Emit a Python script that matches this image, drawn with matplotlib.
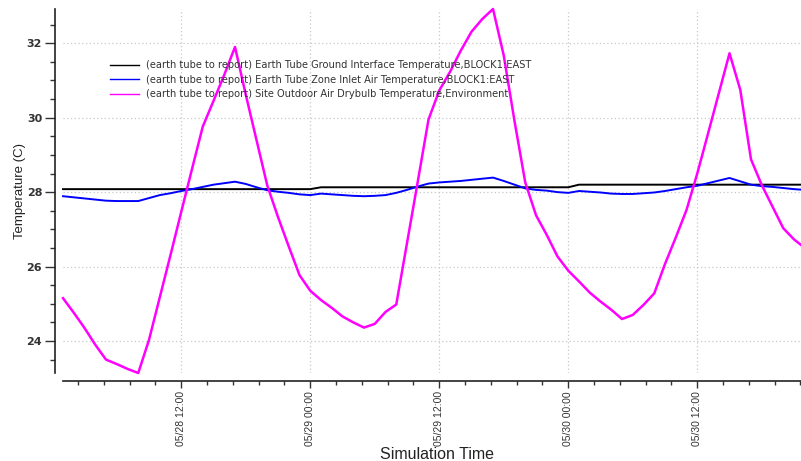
import matplotlib
matplotlib.use("Agg")
import matplotlib.pyplot as plt
import matplotlib.dates as mdates
from matplotlib.ticker import MultipleLocator
import pandas as pd

# hourly EnergyPlus output, starting 05/28 01:00
times = pd.date_range("2001-05-28 01:00", periods=70, freq="h")

ground_temp = [28.08] * 24 + [28.13] * 24 + [28.20] * 22

inlet_temp = [
    27.89, 27.86, 27.83, 27.80, 27.77, 27.76, 27.76, 27.76, 27.84, 27.92,
    27.97, 28.03, 28.08, 28.14, 28.20, 28.24, 28.28, 28.22, 28.13, 28.05,
    28.01, 27.98, 27.94, 27.92, 27.96, 27.94, 27.92, 27.90, 27.89, 27.90,
    27.92, 27.98, 28.06, 28.15, 28.23, 28.26, 28.28, 28.30, 28.33, 28.36,
    28.39, 28.30, 28.20, 28.10, 28.06, 28.04, 28.00, 27.98, 28.03, 28.01,
    27.99, 27.96, 27.95, 27.95, 27.97, 27.99, 28.03, 28.08, 28.13, 28.17,
    28.24, 28.31, 28.38, 28.29, 28.20, 28.16, 28.14, 28.11, 28.08, 28.06,
]

outdoor_temp = [
    25.15, 24.76, 24.35, 23.90, 23.50, 23.38, 23.25, 23.14, 24.03, 25.17,
    26.31, 27.47, 28.62, 29.76, 30.45, 31.15, 31.90, 30.62, 29.40, 28.18,
    27.33, 26.54, 25.77, 25.35, 25.10, 24.89, 24.66, 24.50, 24.36, 24.46,
    24.78, 24.98, 26.63, 28.28, 29.95, 30.73, 31.23, 31.80, 32.31, 32.65,
    32.92, 31.67, 29.91, 28.26, 27.38, 26.85, 26.27, 25.89, 25.60, 25.30,
    25.06, 24.84, 24.59, 24.70, 24.97, 25.28, 26.07, 26.78, 27.52, 28.50,
    29.57, 30.65, 31.73, 30.75, 28.88, 28.19, 27.61, 27.03, 26.73, 26.50,
]

labels = [
    "(earth tube to report) Earth Tube Ground Interface Temperature,BLOCK1:EAST",
    "(earth tube to report) Earth Tube Zone Inlet Air Temperature,BLOCK1:EAST",
    "(earth tube to report) Site Outdoor Air Drybulb Temperature,Environment",
]

fig = plt.figure(figsize=(8.01, 4.61), dpi=100)
ax = fig.add_axes([63 / 801, 88 / 461, 738 / 801, 364 / 461])

ax.plot(times, ground_temp, color="black", lw=1.4, label=labels[0], clip_on=False)
ax.plot(times, inlet_temp, color="#0000ff", lw=1.4, label=labels[1], clip_on=False)
ax.plot(times, outdoor_temp, color="#ff00ff", lw=1.8, label=labels[2], clip_on=False)

ax.set_xlim(times[0], times[0] + pd.Timedelta(hours=68.65))
ax.set_ylim(min(outdoor_temp), max(outdoor_temp))

for side in ["top", "right"]:
    ax.spines[side].set_visible(False)
for side in ["left", "bottom"]:
    ax.spines[side].set_position(("outward", 6))
    ax.spines[side].set_color("#222222")
    ax.spines[side].set_linewidth(1.2)

ax.yaxis.set_major_locator(MultipleLocator(2))
ax.yaxis.set_minor_locator(MultipleLocator(0.5))
ax.xaxis.set_major_locator(MultipleLocator(0.5))
ax.xaxis.set_minor_locator(MultipleLocator(0.1))
ax.xaxis.set_major_formatter(mdates.DateFormatter("%m/%d %H:%M"))

ax.tick_params(axis="y", which="major", length=7, width=1, color="#333333",
               labelsize=8, labelcolor="#333333", pad=2)
ax.tick_params(axis="y", which="minor", length=3.5, width=1, color="#333333")
ax.tick_params(axis="x", which="major", length=5, width=1, color="#333333",
               labelsize=7.5, labelcolor="#333333", pad=2, labelrotation=90)
ax.tick_params(axis="x", which="minor", length=3, width=1, color="#333333")
for t in ax.get_yticklabels():
    t.set_fontweight("bold")
for t in ax.get_xticklabels():
    t.set_family("Liberation Sans")

ax.grid(True, which="major", color="#c8c8c8", linestyle=(0, (1, 2)), linewidth=0.9)

ax.set_xlabel("Simulation Time", family="Liberation Sans", fontsize=11.5, color="#222222")
ax.set_ylabel("Temperature (C)", family="Liberation Sans", fontsize=9.5, color="#222222")
ax.xaxis.set_label_coords(0.507, -0.203)
ax.yaxis.set_label_coords(-0.050, 0.5)

leg = ax.legend(loc="upper left", bbox_to_anchor=(110 / 801, 1 - 60 / 461),
                bbox_transform=fig.transFigure, frameon=False, fontsize=7.1,
                handlelength=2.9, handletextpad=0.7, labelspacing=0.48,
                borderpad=0, borderaxespad=0)
for txt in leg.get_texts():
    txt.set_color("#333333")
for line in leg.get_lines():
    line.set_linewidth(1.0)

fig.savefig("out.png", dpi=100)
